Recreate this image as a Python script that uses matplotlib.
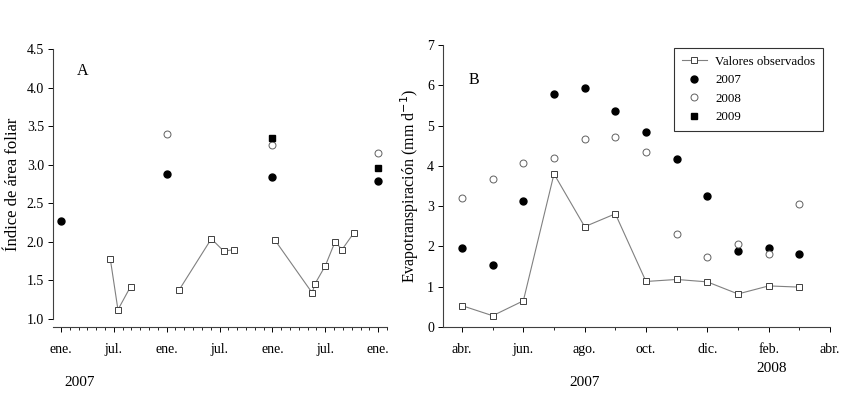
import matplotlib.pyplot as plt
from matplotlib.ticker import MultipleLocator, FixedLocator

plt.rcParams['font.family'] = ['Liberation Serif', 'DejaVu Serif']

# Panel A: leaf area index, months counted from Jan 2007
a_obs_x = [[5.6, 6.47, 7.9],
           [13.43, 17.07, 18.47, 19.68],
           [24.3, 28.5, 28.85, 30.0, 31.1, 31.9, 33.2]]
a_obs_y = [[1.78, 1.12, 1.42],
           [1.38, 2.04, 1.88, 1.90],
           [2.02, 1.34, 1.46, 1.69, 2.00, 1.90, 2.11]]
a_2007_x = [0, 12, 24, 36]
a_2007_y = [2.27, 2.88, 2.84, 2.79]
a_2008_x = [12, 24, 36]
a_2008_y = [3.40, 3.25, 3.15]
a_2009_x = [24, 36]
a_2009_y = [3.34, 2.96]
a_ticklabels = ['ene.', 'jul.', 'ene.', 'jul.', 'ene.', 'jul.', 'ene.']

# Panel B: evapotranspiration, months counted from Apr 2007
b_months = list(range(12))
b_obs = [0.53, 0.28, 0.65, 3.80, 2.49, 2.81, 1.13, 1.18, 1.12, 0.82, 1.02, 0.99]
b_2007 = [1.96, 1.53, 3.12, 5.79, 5.94, 5.37, 4.85, 4.17, 3.25, 1.89, 1.95, 1.82]
b_2008 = [3.20, 3.67, 4.08, 4.19, 4.66, 4.72, 4.35, 2.32, 1.73, 2.06, 1.81, 3.05]
b_ticklabels = ['abr.', 'jun.', 'ago.', 'oct.', 'dic.', 'feb.', 'abr.']

W, H = 850, 397
fig = plt.figure(figsize=(W / 100, H / 100), dpi=100)


def frac(x0, x1, ytop, ybot):
    return [x0 / W, 1 - ybot / H, (x1 - x0) / W, (ybot - ytop) / H]


line_kw = dict(color='#808080', lw=0.8, marker='s', ms=4.8, mfc='white',
               mec='#404040', mew=0.7)
fill_c = dict(ls='none', marker='o', ms=5, color='black')
open_c = dict(ls='none', marker='o', ms=5, mfc='white', mec='#606060', mew=0.7)
fill_s = dict(ls='none', marker='s', ms=4.8, color='black')

# ---- panel A
ax1 = fig.add_axes(frac(53, 387, 49, 319))
for xs, ys in zip(a_obs_x, a_obs_y):
    ax1.plot(xs, ys, **line_kw)
ax1.plot(a_2007_x, a_2007_y, **fill_c)
ax1.plot(a_2008_x, a_2008_y, **open_c)
ax1.plot(a_2009_x, a_2009_y, **fill_s)
ax1.set_xlim(-0.9, 37)
ax1.set_ylim(1.0, 4.5)
ax1.xaxis.set_major_locator(FixedLocator(range(0, 37, 6)))
ax1.xaxis.set_minor_locator(MultipleLocator(1))
ax1.set_xticklabels(a_ticklabels)
ax1.yaxis.set_major_locator(MultipleLocator(0.5))
ax1.yaxis.set_major_formatter(plt.FormatStrFormatter('%.1f'))
ax1.spines['bottom'].set_position(('outward', 6))
ax1.set_ylabel('Índice de área foliar', fontsize=12)
ax1.text(0.07, 0.92, 'A', transform=ax1.transAxes, fontsize=11.5, va='center')

# ---- panel B
ax2 = fig.add_axes(frac(443, 830, 45, 327))
ax2.plot(b_months, b_obs, label='Valores observados', **line_kw)
ax2.plot(b_months, b_2007, label='2007', **fill_c)
ax2.plot(b_months, b_2008, label='2008', **open_c)
ax2.plot([], [], label='2009', **fill_s)
ax2.set_xlim(-0.62, 12)
ax2.set_ylim(0, 7)
ax2.xaxis.set_major_locator(FixedLocator(range(0, 13, 2)))
ax2.xaxis.set_minor_locator(MultipleLocator(1))
ax2.set_xticklabels(b_ticklabels)
ax2.yaxis.set_major_locator(MultipleLocator(1))
ax2.set_ylabel('Evapotranspiración (mm d$^{-1}$)', fontsize=11.5)
ax2.text(0.065, 0.875, 'B', transform=ax2.transAxes, fontsize=11.5, va='center')
leg = ax2.legend(loc='upper right', bbox_to_anchor=(0.982, 0.99), fontsize=9.3,
                 frameon=True, fancybox=False, edgecolor='black',
                 borderpad=0.6, labelspacing=0.5, handlelength=2.0,
                 handletextpad=0.6, borderaxespad=0.0)
leg.get_frame().set_linewidth(0.8)

for ax in (ax1, ax2):
    ax.spines['top'].set_visible(False)
    ax.spines['right'].set_visible(False)
    for s in ('left', 'bottom'):
        ax.spines[s].set_linewidth(0.8)
        ax.spines[s].set_color('#404040')
    ax.tick_params(which='major', direction='out', length=3.5, width=0.7,
                   labelsize=10, pad=8)
    ax.tick_params(which='minor', direction='out', length=2.5, width=0.6)
    ax.tick_params(axis='y', pad=3)

fig.text(80 / W, 1 - 383 / H, '2007', fontsize=11, ha='center', va='center')
fig.text(585 / W, 1 - 383 / H, '2007', fontsize=11, ha='center', va='center')
fig.text(772 / W, 1 - 368 / H, '2008', fontsize=11, ha='center', va='center')

fig.savefig('out.png', dpi=100)
